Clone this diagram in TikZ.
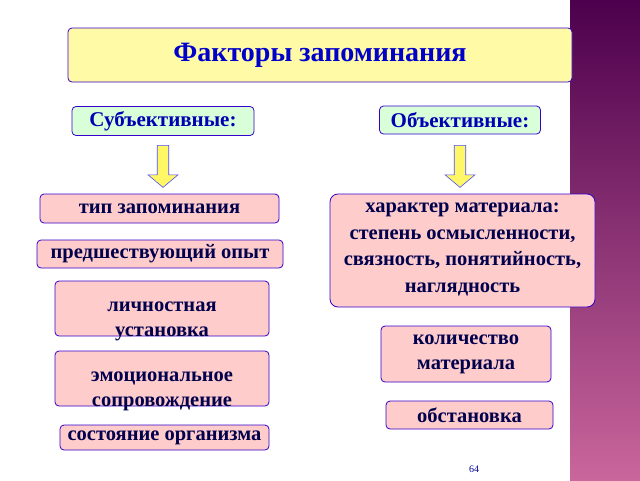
\documentclass[tikz,border=0pt]{standalone}
\usepackage{fontspec}
\setmainfont{Liberation Serif}
\usetikzlibrary{shapes,arrows,positioning}

\begin{document}
\begin{tikzpicture}[x=1pt,y=-1pt,
    frame/.style={rectangle, draw=blue!60!violet, line width=0.8pt, rounded corners=4pt, inner sep=1pt, font=\bfseries\fontsize{20.5}{25}\selectfont, text=blue!30!black, align=center},
    item/.style={frame, fill=red!20},
    head/.style={frame, fill=green!15, text=blue!70!black, font=\bfseries\fontsize{21}{24}\selectfont},
    down/.style={single arrow, draw=blue!70, fill=yellow!60, line width=0.6pt, shape border rotate=270, minimum height=42pt, minimum width=30pt, single arrow head extend=7pt, single arrow tip angle=100, inner sep=4pt}
]
    % fond
    \useasboundingbox (0,0) rectangle (640,480);
    \fill[white] (0,0) rectangle (570,480);
    \shade[top color=violet!60!black, bottom color=violet!70!red!60!white] (570,0) rectangle (640,480);

    % Titre
    \node[frame, fill=yellow!35, minimum width=504pt, minimum height=54pt, text=blue!80!black, font=\bfseries\fontsize{28}{32}\selectfont] (title) at (320,55) {Факторы запоминания};

    % Groupes
    \node[head, minimum width=182pt, minimum height=29pt] (subj) at (163,121) {Субъективные:};
    \node[head, minimum width=161pt, minimum height=28pt] (obj) at (460,120) {Объективные:};
    \node[down] (arrl) at (163,164) {};
    \node[down] (arrr) at (460,164) {};

    % Субъективные
    \node[item, minimum width=239pt, minimum height=29pt] (tip) at (159.5,208.5) {тип запоминания};
    \node[item, minimum width=246pt, minimum height=28pt] (opyt) at (160,254) {предшествующий опыт};
    \node[item, minimum width=214pt, minimum height=55pt, text width=210pt, text depth=4pt] (ustan) at (162,308.5) {личностная\\установка};
    \node[item, minimum width=214pt, minimum height=55pt, text width=210pt, text depth=4pt] (emo) at (162,378.5) {эмоциональное\\сопровождение};
    \node[item, minimum width=209pt, minimum height=25pt] (sost) at (164.5,437.5) {состояние организма};

    % Объективные
    \node[item, minimum width=265pt, minimum height=113pt, rounded corners=8pt, text depth=6pt, font=\bfseries\fontsize{20.5}{26.5}\selectfont] (har) at (462.5,250.5) {характер материала:\\степень осмысленности,\\связность, понятийность,\\наглядность};
    \node[item, minimum width=170pt, minimum height=56pt, text depth=4pt] (kol) at (466,354) {количество\\материала};
    \node[item, minimum width=167pt, minimum height=28pt] (obst) at (469.5,415) {обстановка};

    \node[text=blue!60!black, font=\fontsize{10}{11}\selectfont] (num) at (474,469) {64};
\end{tikzpicture}
\end{document}
